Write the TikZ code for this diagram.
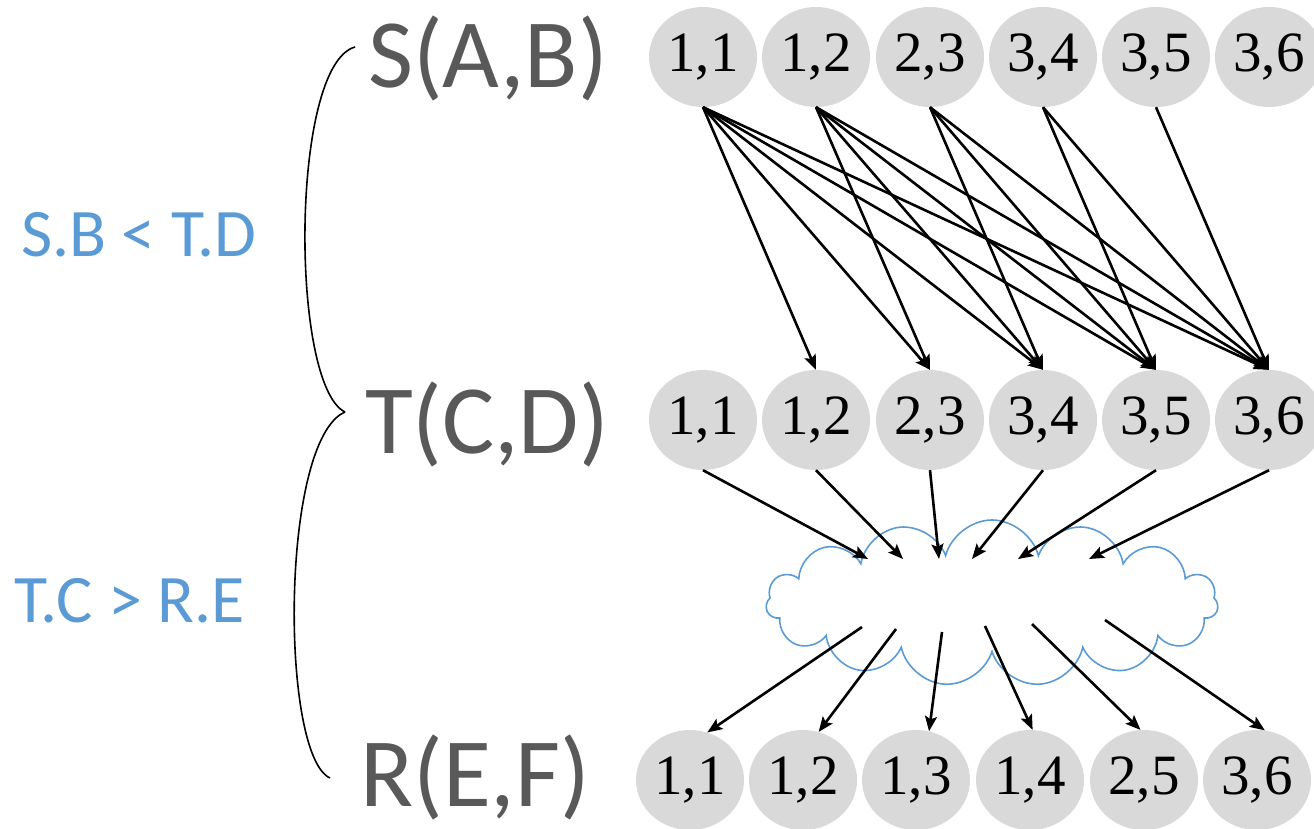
\documentclass[tikz,border=0pt]{standalone}
\usepackage{fontspec}
\usetikzlibrary{shapes.geometric,shapes.symbols,arrows.meta}
\newfontfamily\calib{Carlito}
\newfontfamily\numf{Liberation Serif}
\definecolor{lblgray}{HTML}{595959}
\definecolor{lblblue}{HTML}{5B9BD5}
\definecolor{ellfill}{HTML}{D9D9D9}
\begin{document}
\begin{tikzpicture}[x=1pt,y=-1pt,
  tup/.style={ellipse,fill=ellfill,minimum width=108pt,minimum height=100pt,inner sep=0pt,
    font=\numf\fontsize{57}{60}\selectfont},
  rel/.style={anchor=base west,inner sep=0pt,text=lblgray,font=\calib\fontsize{98}{100}\selectfont},
  cond/.style={anchor=base west,inner sep=0pt,text=lblblue,font=\calib\fontsize{68}{70}\selectfont},
  arr/.style={-{Stealth[length=15pt,width=12pt,inset=3pt]},line width=2.6pt,black},
  brace/.style={line width=1.6pt,black}]
\useasboundingbox (0,0) rectangle (1314,828);

% relation labels
\node[rel] (ls) at (368,87) {S(A,B)};
\node[rel] (lt) at (365,453) {T(C,D)};
\node[rel] (lr) at (360,806) {R(E,F)};
\node[cond] (c1) at (21,256) {S.B < T.D};
\node[cond] (c2) at (14,622) {T.C > R.E};

% braces
\draw[brace] (355,47) .. controls (290,65) and (290,385) .. (345,412);
\draw[brace] (345,412) .. controls (280,440) and (280,755) .. (330,778);

% tuples
\foreach \n/\x/\t in {1/703/{1,1},2/816/{1,2},3/930/{2,3},4/1043/{3,4},5/1156/{3,5},6/1269/{3,6}}{
  \node[tup] (s\n) at (\x,57) {\t};
  \node[tup] (t\n) at (\x,420) {\t};
}
\foreach \n/\x/\t in {1/690/{1,1},2/803/{1,2},3/916/{1,3},4/1030/{1,4},5/1144/{2,5},6/1257/{3,6}}{
  \node[tup] (r\n) at (\x,780) {\t};
}

% cloud
\node[cloud,cloud puffs=15,aspect=2.8,draw=lblblue,line width=1.6pt,fill=white,
  minimum width=452pt,minimum height=166pt,inner sep=0pt] (cl) at (992,603) {};
\coordinate (in1) at (868,559);
\coordinate (in2) at (903,559);
\coordinate (in3) at (939,559);
\coordinate (in4) at (972,559);
\coordinate (in5) at (1018,559);
\coordinate (in6) at (1089,559);
\coordinate (out1) at (862,627);
\coordinate (out2) at (896,629);
\coordinate (out3) at (942,632);
\coordinate (out4) at (985,626);
\coordinate (out5) at (1032,624);
\coordinate (out6) at (1105,620);

% S -> T arrows (S.B < T.D)
\foreach \i/\j in {1/2,1/3,1/4,1/5,1/6,2/3,2/4,2/5,2/6,3/4,3/5,3/6,4/5,4/6,5/6}{
  \draw[arr] (s\i.south) -- (t\j.north);
}
% T -> cloud
\foreach \i in {1,...,6}{
  \draw[arr] (t\i.south) -- (in\i);
}
% cloud -> R
\draw[arr] (out1) -- (r1.70);
\draw[arr] (out2) -- (r2.72);
\draw[arr] (out3) -- (r3.75);
\draw[arr] (out4) -- (r4.87);
\draw[arr] (out5) -- (r5.94);
\draw[arr] (out6) -- (r6.81);
\end{tikzpicture}
\end{document}
